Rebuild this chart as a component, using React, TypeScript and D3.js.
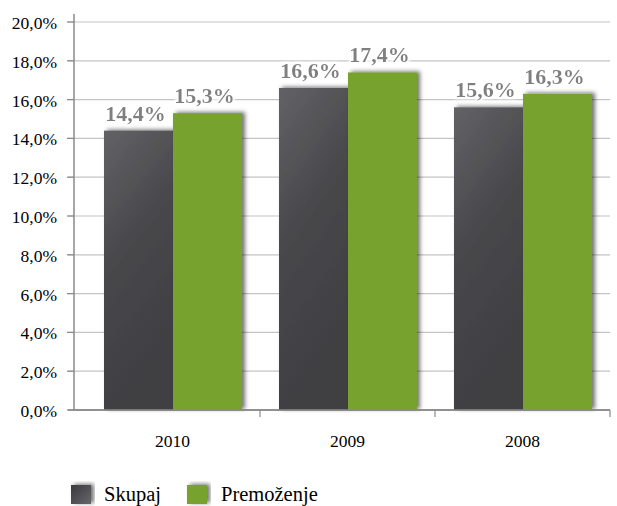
import React from "react";
import * as d3 from "d3";

const categories = ["2010", "2009", "2008"];
const seriesNames = ["Skupaj", "Premoženje"];
const skupaj = [14.4, 16.6, 15.6];
const premozenje = [15.3, 17.4, 16.3];
const yTicks = [0, 2, 4, 6, 8, 10, 12, 14, 16, 18, 20];

const W = 617;
const H = 506;

export default function App() {
  const y = d3.scaleLinear().domain([0, 20]).range([410, 22]);
  const x = d3.scaleBand().domain(categories).range([85, 610]).paddingInner(0).paddingOuter(0);
  const inner = d3.scaleBand().domain(seriesNames).range([19, 175 - 18]).padding(0);
  const fmt = (v: number) => v.toFixed(1).replace(".", ",") + "%";
  const series = [skupaj, premozenje];
  const fills = ["url(#darkGrad)", "#78a22f"];
  const font = "'Liberation Serif', 'Times New Roman', serif";

  return (
    <svg width={W} height={H} style={{ position: "absolute", left: 0, top: 0, background: "#fff" }}>
      <defs>
        <linearGradient id="darkGrad" x1="0" y1="0" x2="0.3" y2="1">
          <stop offset="0" stopColor="#626266" />
          <stop offset="0.5" stopColor="#47474a" />
          <stop offset="1" stopColor="#3f3f42" />
        </linearGradient>
        <linearGradient id="legDark" x1="0" y1="0" x2="1" y2="1">
          <stop offset="0" stopColor="#3a3a3d" />
          <stop offset="1" stopColor="#66666a" />
        </linearGradient>
        <filter id="shadow" x="-20%" y="-20%" width="140%" height="140%">
          <feDropShadow dx="3" dy="-1" stdDeviation="2.2" floodColor="#000" floodOpacity="0.55" />
        </filter>
        <filter id="glow" x="-20%" y="-30%" width="140%" height="160%">
          <feMorphology in="SourceAlpha" operator="dilate" radius="2" result="d" />
          <feGaussianBlur in="d" stdDeviation="1.5" result="b" />
          <feFlood floodColor="#fff" />
          <feComposite in2="b" operator="in" result="w" />
          <feMerge>
            <feMergeNode in="w" />
            <feMergeNode in="SourceGraphic" />
          </feMerge>
        </filter>
      </defs>

      {/* grid */}
      {yTicks.map((t) => (
        <line key={"g" + t} x1={68} x2={610} y1={y(t)} y2={y(t)} stroke={t === 0 ? "#8a8a8a" : "#c4c4c4"} strokeWidth={t === 0 ? 1.5 : 1.2} />
      ))}
      {yTicks.map((t) => (
        <line key={"t" + t} x1={67} x2={74} y1={y(t)} y2={y(t)} stroke="#8a8a8a" strokeWidth={1.2} />
      ))}
      {yTicks.map((t) => (
        <text key={"l" + t} x={57} y={y(t) + 7} textAnchor="end" fontFamily={font} fontSize={17.5} fill="#000">
          {fmt(t)}
        </text>
      ))}

      {/* bars */}
      {categories.map((c, i) => (
        <g key={c}>
          {series.map((s, j) => (
            <rect
              key={j}
              x={(x(c) as number) + (inner(seriesNames[j]) as number)}
              y={y(s[i])}
              width={inner.bandwidth()}
              height={y(0) - y(s[i])}
              fill={fills[j]}
              filter="url(#shadow)"
            />
          ))}
        </g>
      ))}

      {/* axes */}
      <line x1={74} x2={74} y1={14} y2={410} stroke="#8a8a8a" strokeWidth={1.5} />
      <line x1={74} x2={610} y1={410} y2={410} stroke="#8a8a8a" strokeWidth={1.5} />
      {categories.map((c, k) => {
        const xv = (x(c) as number) + x.bandwidth();
        return <line key={"xt" + k} x1={xv} x2={xv} y1={410} y2={417} stroke="#8a8a8a" strokeWidth={1.2} />;
      })}
      {categories.map((c) => (
        <text key={"xl" + c} x={(x(c) as number) + x.bandwidth() / 2} y={447} textAnchor="middle" fontFamily={font} fontSize={17.5} fill="#000">
          {c}
        </text>
      ))}

      {/* value labels */}
      {categories.map((c, i) =>
        series.map((s, j) => (
          <text
            key={"v" + i + j}
            x={(x(c) as number) + (inner(seriesNames[j]) as number) + inner.bandwidth() / 2 - 3}
            y={y(s[i]) - 10}
            textAnchor="middle"
            fontFamily={font}
            fontWeight="bold"
            fontSize={22}
            fill="#7f7f7f"
            filter="url(#glow)"
          >
            {fmt(s[i])}
          </text>
        ))
      )}

      {/* legend */}
      <rect x={71} y={485} width={20} height={19} fill="url(#legDark)" filter="url(#shadow)" />
      <text x={104} y={501} fontFamily={font} fontSize={20.5} fill="#000">{seriesNames[0]}</text>
      <rect x={187} y={485} width={20} height={19} fill="#78a22f" filter="url(#shadow)" />
      <text x={221} y={501} fontFamily={font} fontSize={20.5} fill="#000">{seriesNames[1]}</text>
    </svg>
  );
}
